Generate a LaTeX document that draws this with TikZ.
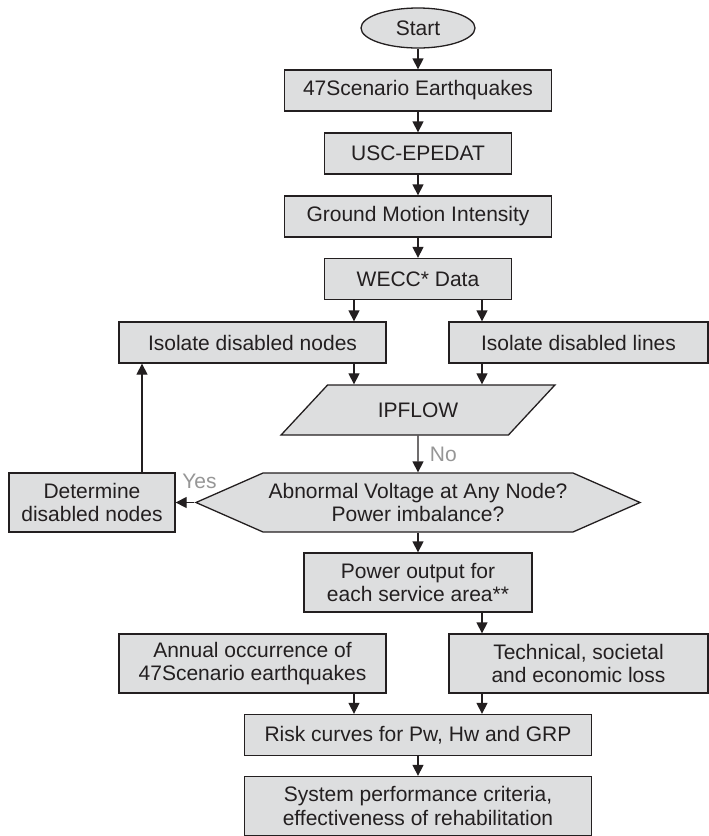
\documentclass[tikz,border=0pt]{standalone}
\usepackage{fontspec}
\setmainfont{Liberation Sans}
\usepackage{xcolor}
\usetikzlibrary{shapes.geometric,shapes.symbols,arrows.meta,positioning}

\definecolor{boxgray}{RGB}{221,222,223}
\definecolor{inkdark}{RGB}{35,31,32}
\definecolor{lblgray}{RGB}{150,150,150}

\begin{document}
\begin{tikzpicture}[x=1pt, y=-1pt,
  blk/.style={rectangle, draw=inkdark, fill=boxgray, line width=1.3pt,
              minimum height=41pt, align=center, inner sep=2pt,
              font=\fontsize{21}{23.5}\selectfont, text=inkdark},
  tall/.style={blk, minimum height=59pt},
  arr/.style={-{Triangle[length=11pt,width=11pt]}, line width=1.3pt, draw=inkdark},
  lbl/.style={font=\fontsize{21}{23.5}\selectfont, text=lblgray}
]
\useasboundingbox (0,0) rectangle (709,836);

% main column
\node[blk, ellipse, minimum width=114pt, minimum height=40pt] (start) at (418,28) {Start};
\node[blk, minimum width=267pt] (quakes) at (418,90.5) {47Scenario Earthquakes};
\node[blk, minimum width=187pt] (epedat) at (418,153.5) {USC-EPEDAT};
\node[blk, minimum width=267pt] (motion) at (418,216.5) {Ground Motion Intensity};
\node[blk, minimum width=187pt] (wecc) at (418,279) {WECC* Data};

% isolation branch
\node[blk, minimum width=267pt] (isonodes) at (252.5,342.5) {Isolate disabled nodes};
\node[blk, minimum width=259pt] (isolines) at (578.5,342.5) {Isolate disabled lines};
\node[blk, trapezium, trapezium left angle=41, trapezium right angle=139,
      trapezium stretches=true, minimum width=274pt, minimum height=50pt] (ipflow) at (418,410) {IPFLOW};
\node[blk, signal, signal to=west and east, signal pointer angle=47.5,
      minimum width=444pt, minimum height=59pt] (check) at (418,502.5)
      {Abnormal Voltage at Any Node?\\Power imbalance?};
\node[tall, minimum width=166pt] (determine) at (92,502.5) {Determine\\disabled nodes};

% results
\node[tall, minimum width=228pt] (power) at (418,582.5) {Power output for\\each service area**};
\node[tall, minimum width=267pt] (annual) at (252.5,663.5) {Annual occurrence of\\47Scenario earthquakes};
\node[tall, minimum width=259pt] (loss) at (578.5,663.5) {Technical, societal\\and economic loss};
\node[blk, minimum width=347pt] (risk) at (418,735) {Risk curves for Pw, Hw and GRP};
\node[tall, minimum width=347pt] (criteria) at (418,806) {System performance criteria,\\effectiveness of rehabilitation};

% columns for the side arrows
\coordinate (lx) at (354,0);
\coordinate (rx) at (482,0);
\coordinate (bx) at (142,0);

\draw[arr] (start) -- (quakes);
\draw[arr] (quakes) -- (epedat);
\draw[arr] (epedat) -- (motion);
\draw[arr] (motion) -- (wecc);
\draw[arr] (wecc.south -| lx) -- (isonodes.north -| lx);
\draw[arr] (wecc.south -| rx) -- (isolines.north -| rx);
\draw[arr] (isonodes.south -| lx) -- (ipflow.north -| lx);
\draw[arr] (isolines.south -| rx) -- (ipflow.north -| rx);
\draw[arr] (ipflow.south) -- node[lbl, right, xshift=8pt]{No} (check.north);
\draw[arr] (check.west) -- node[lbl, pos=0, above=10pt, xshift=5pt]{Yes} (determine.east);
\draw[arr] (determine.north -| bx) -- (isonodes.south -| bx);
\draw[arr] (check.south) -- (power.north);
\draw[arr] (power.south -| rx) -- (loss.north -| rx);
\draw[arr] (annual.south -| lx) -- (risk.north -| lx);
\draw[arr] (loss.south -| rx) -- (risk.north -| rx);
\draw[arr] (risk) -- (criteria);
\end{tikzpicture}
\end{document}
